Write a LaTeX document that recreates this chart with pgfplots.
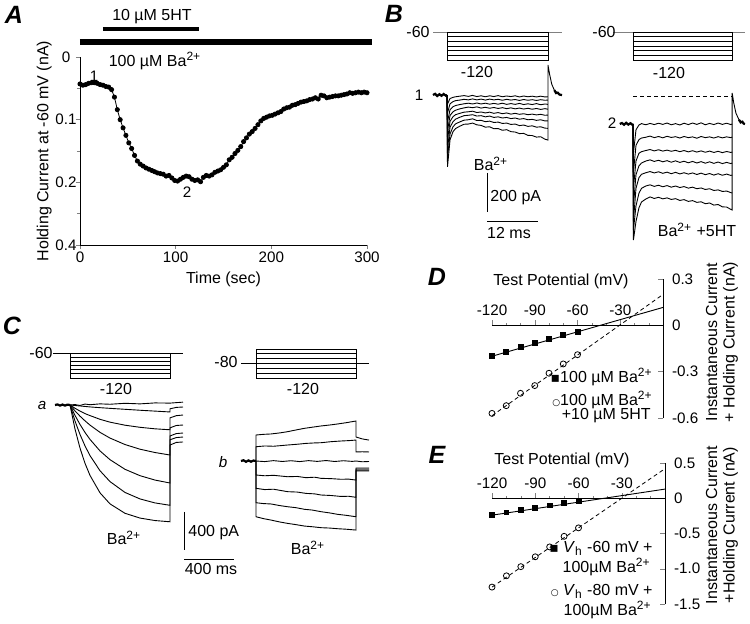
\documentclass[border=0pt]{standalone}
\usepackage{fontspec}
\setmainfont{Liberation Sans}
\newfontfamily\sym{DejaVu Sans}
\usepackage{pgfplots}
\pgfplotsset{compat=1.18}
\newcommand{\tf}{\fontsize{8}{8.7}\selectfont}
\newcommand{\kf}{\fontsize{7.6}{9}\selectfont}
\newcommand{\lf}{\fontsize{12.5}{14}\selectfont\bfseries\itshape}
\pgfplotsset{
  every axis/.append style={font=\tf, tick label style={font=\kf}},
  noarrows/.style={axis line style={-, line width=0.4pt},
    every inner x axis line/.append style={-},
    every inner y axis line/.append style={-},
    every outer x axis line/.append style={-},
    every outer y axis line/.append style={-}},
  hid/.style={scale only axis, hide axis, clip=false, anchor=north west},
  tr/.style={black, line width=0.45pt, mark=none},
  thk/.style={black, line width=1.1pt, mark=none},
  pr/.style={black, line width=0.4pt, mark=none},
}
\begin{document}
\begin{tikzpicture}
\useasboundingbox (0,0) rectangle (375pt,-311.5pt);

%================ A =================
\begin{axis}[at={(40pt,-28.5pt)}, anchor=north west, scale only axis,
  width=143.5pt, height=94pt,
  xmin=0, xmax=300, ymin=0, ymax=0.3, y dir=reverse,
  axis x line*=bottom, axis y line*=left, noarrows,
  xtick={0,100,200,300}, xticklabels={0,100,200,300},
  ytick={0,0.1,0.2,0.3}, yticklabels={0,0.1,0.2,0.4},
  minor ytick={0.05,0.15,0.25},
  tick align=outside, major tick length=2pt, minor tick length=1.5pt,
  yticklabel style={anchor=center, xshift=-5pt},
  xticklabel style={yshift=2pt},
  xlabel style={yshift=2.5pt},
  ylabel style={yshift=-5pt},
  xlabel={Time (sec)}, ylabel={Holding Current at -60 mV (nA)},
  clip=false]
\addplot[black, line width=0.4pt, mark=*, mark size=1.05pt] coordinates {
(0,0.043)(3,0.045)(6,0.044)(9,0.042)(12,0.041)(15,0.041)(18,0.042)(21,0.044)(24,0.045)(27,0.047)
(30,0.048)(33,0.052)(36,0.064)(39,0.084)(42,0.100)(45,0.113)(48,0.125)(51,0.137)(54,0.146)(57,0.157)
(60,0.166)(63,0.171)(66,0.174)(69,0.177)(72,0.179)(75,0.181)(78,0.183)(81,0.185)(84,0.186)(87,0.187)
(90,0.190)(93,0.189)(96,0.193)(99,0.197)(102,0.198)(105,0.195)(108,0.192)(111,0.190)(114,0.191)(117,0.195)
(120,0.197)(123,0.196)(126,0.199)(129,0.192)(132,0.189)(135,0.190)(138,0.188)(141,0.184)(144,0.182)(147,0.180)
(150,0.176)(153,0.172)(156,0.164)(159,0.160)(162,0.154)(165,0.149)(168,0.143)(171,0.135)(174,0.129)(177,0.123)
(180,0.119)(183,0.114)(186,0.108)(189,0.102)(192,0.098)(195,0.096)(198,0.094)(201,0.093)(204,0.091)(207,0.089)
(210,0.087)(213,0.083)(216,0.081)(219,0.080)(222,0.077)(225,0.076)(228,0.074)(231,0.072)(234,0.071)(237,0.070)
(240,0.068)(243,0.067)(246,0.065)(249,0.067)(252,0.061)(255,0.062)(258,0.065)(261,0.064)(264,0.063)(267,0.062)
(270,0.062)(273,0.061)(276,0.060)(279,0.059)(282,0.057)(285,0.058)(288,0.057)(291,0.056)(294,0.057)(297,0.056)
(300,0.057)};
\addplot[black, line width=1.6pt, mark=none] coordinates {(24,-0.0447)(124,-0.0447)};
\addplot[black, line width=2.6pt, mark=none] coordinates {(0,-0.024)(305,-0.024)};
\end{axis}

%================ B protocols =================
\begin{axis}[hid, at={(216.5pt,-12.5pt)}, width=64.5pt, height=20pt,
  xmin=-3.3, xmax=27.0, ymin=-130.7, ymax=-45]
\addplot[gray, line width=0.4pt, mark=none] coordinates {(-3.3,-60)(27.0,-60)};
\addplot[pr] coordinates {(0,-60)(0,-120)(23.7,-120)(23.7,-60)(0,-60)};
\addplot[pr] coordinates {(0,-70)(23.7,-70)};
\addplot[pr] coordinates {(0,-80)(23.7,-80)};
\addplot[pr] coordinates {(0,-90)(23.7,-90)};
\addplot[pr] coordinates {(0,-100)(23.7,-100)};
\addplot[pr] coordinates {(0,-110)(23.7,-110)};
\end{axis}
\begin{axis}[hid, at={(302.5pt,-12.5pt)}, width=70pt, height=20pt,
  xmin=-6.58, xmax=26.32, ymin=-130.7, ymax=-45]
\addplot[gray, line width=0.4pt, mark=none] coordinates {(-4.7,-60)(26.3,-60)};
\addplot[pr] coordinates {(0,-60)(0,-120)(23.3,-120)(23.3,-60)(0,-60)};
\addplot[pr] coordinates {(0,-70)(23.3,-70)};
\addplot[pr] coordinates {(0,-80)(23.3,-80)};
\addplot[pr] coordinates {(0,-90)(23.3,-90)};
\addplot[pr] coordinates {(0,-100)(23.3,-100)};
\addplot[pr] coordinates {(0,-110)(23.3,-110)};
\end{axis}

%================ B left traces (ms, pA) =================
\begin{axis}[hid, at={(216.5pt,-30pt)}, width=64.5pt, height=55pt,
  xmin=-3.3, xmax=27.0, ymin=-384.8, ymax=179.6]
\addplot[thk] coordinates {(-3.3,0)(-2.8,6)(-2.3,-5)(-1.8,4)(-1.3,-4)(-0.8,5)(-0.3,-3)(0,0)};
\addplot[tr] coordinates {(0,0)(0.1,-46)(0.7,-18)(1.4,-12)(2,-9)(3,-6)(4,-3)(5,-7)(6,-2)(7,-8)(8,-4)(9,-9)(10,-4)(11,-8)(12,-3)(13,-9)(14,-5)(15,-8)(16,-4)(17,-10)(18,-5)(19,-9)(20,-6)(21,-10)(22,-6)(23,-10)(23.7,-9)};
\addplot[tr] coordinates {(0,0)(0.1,-92)(0.7,-45)(1.4,-34)(2,-29)(3,-26)(4,-22)(5,-25)(6,-20)(7,-25)(8,-21)(9,-26)(10,-21)(11,-25)(12,-22)(13,-27)(14,-22)(15,-26)(16,-23)(17,-28)(18,-23)(19,-27)(20,-24)(21,-28)(22,-24)(23,-27)(23.7,-26)};
\addplot[tr] coordinates {(0,0)(0.1,-139)(0.7,-75)(1.4,-60)(2,-54)(3,-49)(4,-45)(5,-42)(6,-46)(7,-41)(8,-46)(9,-42)(10,-47)(11,-43)(12,-47)(13,-42)(14,-48)(15,-44)(16,-48)(17,-43)(18,-49)(19,-45)(20,-49)(21,-44)(22,-50)(23,-46)(23.7,-48)};
\addplot[tr] coordinates {(0,0)(0.1,-185)(0.7,-105)(1.4,-86)(2,-78)(3,-71)(4,-66)(5,-62)(6,-65)(7,-61)(8,-67)(9,-63)(10,-68)(11,-64)(12,-69)(13,-65)(14,-70)(15,-66)(16,-71)(17,-67)(18,-72)(19,-68)(20,-73)(21,-69)(22,-74)(23,-70)(23.7,-73)};
\addplot[tr] coordinates {(0,0)(0.1,-231)(0.7,-135)(1.4,-111)(2,-101)(3,-94)(4,-88)(5,-86)(6,-83)(7,-90)(8,-87)(9,-92)(10,-88)(11,-94)(12,-90)(13,-96)(14,-92)(15,-98)(16,-94)(17,-99)(18,-96)(19,-101)(20,-98)(21,-102)(22,-99)(23,-104)(23.7,-103)};
\addplot[tr] coordinates {(0,0)(0.1,-277)(0.7,-165)(1.4,-137)(2,-124)(3,-114)(4,-106)(5,-104)(6,-101)(7,-108)(8,-106)(9,-112)(10,-108)(11,-115)(12,-112)(13,-118)(14,-115)(15,-121)(16,-118)(17,-124)(18,-121)(19,-127)(20,-125)(21,-130)(22,-127)(23,-133)(23.7,-133)};
\addplot[tr] coordinates {(0,0)(0.1,-323)(0.7,-200)(1.4,-163)(2,-148)(3,-138)(4,-129)(5,-127)(6,-122)(7,-131)(8,-130)(9,-137)(10,-134)(11,-141)(12,-139)(13,-146)(14,-144)(15,-151)(16,-149)(17,-157)(18,-154)(19,-161)(20,-158)(21,-165)(22,-163)(23,-170)(23.7,-171)};
\addplot[tr] coordinates {(0,0)(0.1,-369)(0.7,-230)(1.4,-188)(2,-172)(3,-160)(4,-150)(5,-149)(6,-144)(7,-153)(8,-156)(9,-165)(10,-163)(11,-173)(12,-172)(13,-181)(14,-178)(15,-188)(16,-190)(17,-198)(18,-197)(19,-207)(20,-208)(21,-216)(22,-214)(23,-227)(23.7,-231)(23.7,154)(24.1,105)(24.6,55)(25.2,25)(26,8)(27,0)};
\addplot[thk] coordinates {(25.2,25)(25.6,10)(26.0,12)(26.4,2)(27,0)};
% scale bars: 200 pA, 12 ms
\addplot[pr] coordinates {(9.4,-400)(9.4,-600)};
\addplot[pr] coordinates {(9.4,-646)(21.4,-646)};
\end{axis}

%================ B right traces (ms, pA) =================
\begin{axis}[hid, at={(302.5pt,-42.5pt)}, width=70pt, height=80pt,
  xmin=-6.58, xmax=26.32, ymin=-620.7, ymax=200]
\addplot[black, line width=0.4pt, dash pattern=on 2pt off 1.5pt, mark=none] coordinates {(0,144)(23.3,144)};
\addplot[thk] coordinates {(-3.1,0)(-2.6,5)(-2.1,-4)(-1.6,6)(-1.1,-3)(-0.6,4)(-0.2,-3)(0,0)};
\addplot[tr] coordinates {(0,0)(0.1,-150)(0.7,-30)(1.4,-5)(2,2)(3,-4)(4,3)(5,-3)(6,4)(7,-2)(8,5)(9,-4)(10,2)(11,-5)(12,4)(13,-3)(14,5)(15,-2)(16,6)(17,-4)(18,3)(19,-3)(20,5)(21,-2)(22,4)(23,-3)(23.3,0)};
\addplot[tr] coordinates {(0,0)(0.1,-250)(0.7,-110)(1.4,-80)(2,-72)(3,-68)(4,-62)(5,-70)(6,-64)(7,-71)(8,-63)(9,-69)(10,-65)(11,-72)(12,-64)(13,-70)(14,-66)(15,-73)(16,-64)(17,-70)(18,-66)(19,-72)(20,-65)(21,-71)(22,-66)(23,-70)(23.3,-67)};
\addplot[tr] coordinates {(0,0)(0.1,-330)(0.7,-190)(1.4,-150)(2,-142)(3,-136)(4,-131)(5,-138)(6,-132)(7,-139)(8,-134)(9,-140)(10,-135)(11,-142)(12,-136)(13,-143)(14,-137)(15,-144)(16,-138)(17,-145)(18,-139)(19,-146)(20,-140)(21,-147)(22,-141)(23,-146)(23.3,-144)};
\addplot[tr] coordinates {(0,0)(0.1,-420)(0.7,-260)(1.4,-215)(2,-200)(3,-190)(4,-184)(5,-192)(6,-186)(7,-194)(8,-188)(9,-196)(10,-189)(11,-197)(12,-191)(13,-199)(14,-192)(15,-200)(16,-193)(17,-201)(18,-194)(19,-202)(20,-195)(21,-203)(22,-197)(23,-203)(23.3,-200)};
\addplot[tr] coordinates {(0,0)(0.1,-500)(0.7,-330)(1.4,-275)(2,-258)(3,-250)(4,-244)(5,-251)(6,-245)(7,-253)(8,-247)(9,-255)(10,-248)(11,-256)(12,-250)(13,-257)(14,-251)(15,-259)(16,-252)(17,-260)(18,-254)(19,-262)(20,-255)(21,-263)(22,-257)(23,-264)(23.3,-262)};
\addplot[tr] coordinates {(0,0)(0.1,-545)(0.7,-420)(1.4,-355)(2,-330)(3,-318)(4,-312)(5,-320)(6,-314)(7,-322)(8,-316)(9,-324)(10,-318)(11,-326)(12,-321)(13,-329)(14,-324)(15,-332)(16,-328)(17,-336)(18,-332)(19,-341)(20,-338)(21,-346)(22,-344)(23,-352)(23.3,-354)};
\addplot[tr] coordinates {(0,0)(0.1,-595)(0.7,-500)(1.4,-430)(2,-400)(3,-385)(4,-374)(5,-382)(6,-376)(7,-384)(8,-379)(9,-387)(10,-383)(11,-392)(12,-388)(13,-397)(14,-393)(15,-402)(16,-399)(17,-409)(18,-405)(19,-416)(20,-413)(21,-425)(22,-426)(23,-438)(23.3,-441)(23.3,159)(23.7,105)(24.2,55)(24.9,22)(25.6,8)(26.3,0)};
\addplot[thk] coordinates {(24.9,22)(25.3,8)(25.7,12)(26.0,2)(26.3,0)};
\end{axis}

%================ C protocols =================
\begin{axis}[hid, at={(25pt,-172.5pt)}, width=100pt, height=25pt,
  xmin=-160, xmax=1440, ymin=-160.8, ymax=-40.8]
\addplot[pr] coordinates {(-136,-60)(904,-60)};
\addplot[pr] coordinates {(0,-60)(0,-120)(800,-120)(800,-60)};
\addplot[pr] coordinates {(0,-70)(800,-70)};
\addplot[pr] coordinates {(0,-80)(800,-80)};
\addplot[pr] coordinates {(0,-90)(800,-90)};
\addplot[pr] coordinates {(0,-100)(800,-100)};
\addplot[pr] coordinates {(0,-110)(800,-110)};
\end{axis}
\begin{axis}[hid, at={(107.5pt,-170pt)}, width=80pt, height=27.5pt,
  xmin=-328, xmax=952, ymin=-166.9, ymax=-15.2]
\addplot[pr] coordinates {(-120,-80)(904,-80)};
\addplot[pr] coordinates {(0,-40)(0,-120)(800,-120)(800,-40)(0,-40)};
\addplot[pr] coordinates {(0,-53)(800,-53)};
\addplot[pr] coordinates {(0,-67)(800,-67)};
\addplot[pr] coordinates {(0,-93)(800,-93)};
\addplot[pr] coordinates {(0,-107)(800,-107)};
\end{axis}

%================ C left traces (ms, pA) =================
\begin{axis}[hid, at={(25pt,-197.5pt)}, width=100pt, height=85pt,
  xmin=-160, xmax=1440, ymin=-1680, ymax=105]
\addplot[thk] coordinates {(-120,0)(-100,6)(-80,-6)(-60,5)(-40,-6)(-20,4)(0,0)};
\addplot[tr] coordinates {(0,0)(40,5)(80,-5)(120,10)(160,3)(240,12)(320,8)(440,18)(560,12)(680,22)(800,20)(850,25)(904,30)};
\addplot[tr] coordinates {(0,0)(40,-5)(80,-10)(120,-15)(160,-20)(240,-28)(320,-35)(440,-45)(560,-55)(680,-64)(800,-73)(800,-40)(850,-25)(904,-21)};
\addplot[tr] coordinates {(0,0)(40,-34)(80,-64)(120,-90)(160,-111)(240,-150)(320,-180)(440,-212)(560,-234)(680,-250)(800,-260)(800,-135)(850,-112)(904,-105)};
\addplot[tr] coordinates {(0,0)(40,-62)(80,-117)(120,-166)(160,-211)(240,-287)(320,-347)(440,-415)(560,-464)(680,-499)(800,-525)(800,-240)(850,-215)(904,-210)};
\addplot[tr] coordinates {(0,0)(40,-109)(80,-204)(120,-288)(160,-361)(240,-482)(320,-574)(440,-675)(560,-742)(680,-788)(800,-819)(800,-325)(850,-300)(904,-294)};
\addplot[tr] coordinates {(0,0)(40,-168)(80,-309)(120,-429)(160,-531)(240,-690)(320,-804)(440,-918)(560,-986)(680,-1028)(800,-1053)(800,-365)(850,-342)(904,-336)};
\addplot[tr] coordinates {(0,0)(40,-252)(80,-452)(120,-612)(160,-739)(240,-922)(320,-1038)(440,-1137)(560,-1187)(680,-1213)(800,-1226)(800,-420)(850,-393)(904,-388)};
% scale bars: 400 pA, 400 ms
\addplot[pr] coordinates {(912,-1123)(912,-1522)};
\addplot[pr] coordinates {(912,-1617)(1312,-1617)};
\end{axis}

%================ C right traces (ms, pA) =================
\begin{axis}[hid, at={(107.5pt,-205pt)}, width=80pt, height=75pt,
  xmin=-328, xmax=952, ymin=-1039.5, ymax=535.5]
\addplot[thk] coordinates {(-120,0)(-100,8)(-80,-8)(-60,6)(-40,-7)(-20,5)(0,0)};
\addplot[tr] coordinates {(0,0)(0,273)(60,280)(120,284)(190,295)(253,308)(320,326)(387,343)(450,355)(520,368)(590,378)(653,389)(720,402)(800,420)(800,252)(850,232)(904,220)};
\addplot[tr] coordinates {(0,0)(0,150)(70,158)(140,155)(253,168)(330,176)(400,185)(470,190)(520,192)(600,203)(680,210)(740,214)(800,220)(800,95)(850,97)(904,95)};
\addplot[tr] coordinates {(0,0)(70,-6)(140,4)(210,-5)(280,3)(350,-6)(420,4)(490,-4)(560,5)(630,-5)(700,3)(770,-4)(800,0)(850,-8)(904,-5)};
\addplot[tr] coordinates {(0,0)(0,-147)(70,-155)(140,-150)(253,-165)(330,-162)(400,-175)(470,-170)(520,-182)(600,-185)(680,-192)(740,-190)(800,-200)(800,-73)(904,-73)};
\addplot[tr] coordinates {(0,0)(0,-287)(70,-300)(140,-296)(253,-322)(330,-326)(400,-340)(470,-345)(520,-357)(600,-362)(680,-372)(740,-370)(800,-381)(800,-84)(904,-84)};
\addplot[tr] coordinates {(0,0)(0,-438)(60,-447)(120,-451)(190,-468)(253,-480)(320,-490)(387,-507)(450,-515)(520,-532)(590,-545)(653,-560)(720,-570)(800,-585)(800,-95)(904,-95)};
\addplot[tr] coordinates {(0,0)(0,-585)(60,-605)(120,-620)(190,-640)(253,-655)(320,-668)(387,-683)(450,-690)(520,-700)(590,-704)(653,-711)(720,-716)(800,-725)(800,-105)(904,-105)};
\end{axis}

%================ D =================
\begin{axis}[at={(246pt,-139.5pt)}, anchor=north west, scale only axis,
  width=85.5pt, height=69.5pt,
  xmin=-120, xmax=0, ymin=-0.6, ymax=0.3,
  axis x line=middle, axis y line=right, noarrows,
  hide obscured x ticks=false, hide obscured y ticks=false,
  xtick={-120,-90,-60,-30}, xticklabels={-120,-90,-60,-30},
  minor xtick={-110,-100,-80,-70,-50,-40,-20,-10},
  ytick={-0.6,-0.3,0,0.3}, yticklabels={-0.6,-0.3,0,0.3},
  xticklabel style={anchor=south, yshift=1.5pt},
  yticklabel style={xshift=1pt},
  tick align=inside, major tick length=2.5pt, minor tick length=1.2pt,
  clip=false]
\addplot[black, line width=0.45pt, mark=none] coordinates {(-120,-0.20)(0,0.116)};
\addplot[black, line width=0.4pt, dash pattern=on 2pt off 1.5pt, mark=none] coordinates {(-120,-0.585)(0,0.2)};
\addplot[black, only marks, mark=square*, mark size=1.2pt] coordinates {
(-120,-0.200)(-110,-0.172)(-100,-0.140)(-90,-0.112)(-80,-0.086)(-70,-0.060)(-60,-0.043)};
\addplot[black, only marks, mark=o, mark size=1.5pt, mark options={fill=white, line width=0.4pt}] coordinates {
(-120,-0.57)(-110,-0.52)(-100,-0.44)(-90,-0.39)(-80,-0.31)(-70,-0.25)(-60,-0.19)};
\end{axis}

%================ E =================
\begin{axis}[at={(246pt,-231.5pt)}, anchor=north west, scale only axis,
  width=86.5pt, height=70.5pt,
  xmin=-120, xmax=0, ymin=-1.5, ymax=0.5,
  axis x line=middle, axis y line=right, noarrows,
  hide obscured x ticks=false, hide obscured y ticks=false,
  xtick={-120,-90,-60,-30}, xticklabels={-120,-90,-60,-30},
  minor xtick={-110,-100,-80,-70,-50,-40,-20,-10},
  ytick={-1.5,-1.0,-0.5,0,0.5}, yticklabels={-1.5,-1.0,-0.5,0,0.5},
  xticklabel style={anchor=south, yshift=1.5pt},
  yticklabel style={xshift=1pt},
  tick align=inside, major tick length=2.5pt, minor tick length=1.2pt,
  clip=false]
\addplot[black, line width=0.45pt, mark=none] coordinates {(-120,-0.24)(0,0.13)};
\addplot[black, line width=0.4pt, dash pattern=on 2pt off 1.5pt, mark=none] coordinates {(-120,-1.26)(0,0.42)};
\addplot[black, only marks, mark=square*, mark size=1.2pt] coordinates {
(-120,-0.233)(-110,-0.20)(-100,-0.17)(-90,-0.14)(-80,-0.10)(-70,-0.07)(-60,-0.043)};
\addplot[black, only marks, mark=o, mark size=1.5pt, mark options={fill=white, line width=0.4pt}] coordinates {
(-120,-1.26)(-110,-1.10)(-100,-0.97)(-90,-0.83)(-80,-0.69)(-70,-0.54)(-60,-0.42)};
\end{axis}

%================ text (pixel frame) =================
\begin{scope}[x=0.5pt, y=-0.5pt, every node/.style={inner sep=0pt, font=\tf}]
% A
\node[font=\lf] at (14,15) {A};
\node at (152,17) {10 µM 5HT};
\node at (155,61) {100 µM Ba\textsuperscript{2+}};
\node[font=\kf] at (94,76) {1};
\node[font=\kf] at (187,192) {2};
% B
\node[font=\lf] at (394,14) {B};
\node[anchor=east] at (430,32) {-60};
\node at (477,72) {-120};
\node[anchor=east] at (616,32) {-60};
\node at (669,73) {-120};
\node[font=\kf] at (419,95) {1};
\node[font=\kf] at (612,123) {2};
\node at (491,164) {Ba\textsuperscript{2+}};
\node[anchor=west] at (490,198) {200 pA};
\node at (509,233) {12 ms};
\node at (697,230) {Ba\textsuperscript{2+} +5HT};
% C
\node[font=\lf] at (12,326) {C};
\node[anchor=east] at (53,353) {-60};
\node at (116,389) {-120};
\node[anchor=east] at (238,362) {-80};
\node at (303,389) {-120};
\node[font=\kf\itshape] at (42,405) {a};
\node[font=\kf\itshape] at (223,462) {b};
\node at (124,538) {Ba\textsuperscript{2+}};
\node[anchor=west] at (188,533) {400 pA};
\node at (211,569) {400 ms};
\node at (308,548) {Ba\textsuperscript{2+}};
% D
\node[font=\lf] at (437,277) {D};
\node at (561,281) {Test Potential (mV)};
\node[rotate=90, align=center] at (722,342) {Instantaneous Current\\+ Holding Current (nA)};
\node[anchor=east] at (653,377) {{\sym\fontsize{7}{7}\selectfont ▪}100 µM Ba\textsuperscript{2+}};
\node[anchor=east] at (653,400) {{\sym\fontsize{4.5}{5}\selectfont ○}100 µM Ba\textsuperscript{2+}};
\node[anchor=east] at (651,416) {+10 µM 5HT};
% E
\node[font=\lf] at (437,455) {E};
\node at (562,460) {Test Potential (mV)};
\node[rotate=90, align=center] at (722,525) {Instantaneous Current\\+Holding Current (nA)};
\node[anchor=east] at (653,548) {{\sym\fontsize{7}{7}\selectfont ▪} \textit{V}\textsubscript{h} -60 mV +};
\node[anchor=east] at (651,567) {100µM Ba\textsuperscript{2+}};
\node[anchor=east] at (653,591) {{\sym\fontsize{4.5}{5}\selectfont ○} \textit{V}\textsubscript{h} -80 mV +};
\node[anchor=east] at (652,610) {100µM Ba\textsuperscript{2+}};
\end{scope}
\end{tikzpicture}
\end{document}
